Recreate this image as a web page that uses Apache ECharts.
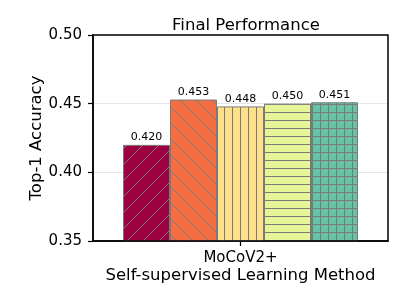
<!DOCTYPE html>
<html><head><meta charset="utf-8">
<script src="https://cdn.jsdelivr.net/npm/echarts@6/dist/echarts.min.js"></script>
<style>html,body{margin:0;padding:0;background:#fff}#c{width:407px;height:305px}</style>
</head><body><div id="c"></div>
<script>
const categories = ['MoCoV2+'];
const methods = ['m1','m2','m3','m4','m5'];
const values = [0.420, 0.453, 0.448, 0.450, 0.451];
const yTicks = [0.35, 0.40, 0.45, 0.50];

const baseColors = ['#9e0142','#f46d43','#fee08b','#e6f598','#66c2a5'];
const hatches = ['/','\\','|','-','+'];

function makePattern(base, hatch){
  const s = (hatch === '/' || hatch === '\\') ? 16 : 8;
  const cv = document.createElement('canvas');
  cv.width = s; cv.height = s;
  const g = cv.getContext('2d');
  g.fillStyle = base; g.fillRect(0,0,s,s);
  g.strokeStyle = '#7a7a7a'; g.lineWidth = 1;
  g.beginPath();
  if (hatch === '/') {
    g.moveTo(0,s); g.lineTo(s,0);
    g.moveTo(-2,2); g.lineTo(2,-2);
    g.moveTo(s-2,s+2); g.lineTo(s+2,s-2);
  } else if (hatch === '\\') {
    g.moveTo(0,0); g.lineTo(s,s);
    g.moveTo(s-2,-2); g.lineTo(s+2,2);
    g.moveTo(-2,s-2); g.lineTo(2,s+2);
  } else if (hatch === '|') {
    g.moveTo(0.5,0); g.lineTo(0.5,s);
  } else if (hatch === '-') {
    g.moveTo(0,0.5); g.lineTo(s,0.5);
  } else if (hatch === '+') {
    g.moveTo(0.5,0); g.lineTo(0.5,s);
    g.moveTo(0,0.5); g.lineTo(s,0.5);
  }
  g.stroke();
  return {image: cv, repeat: 'repeat'};
}

const chart = echarts.init(document.getElementById('c'), null, {renderer:'canvas'});
const font = 'DejaVu Sans';
const series = methods.map((m,i)=>({
  name: m, type: 'bar', data: [values[i]],
  barWidth: 47, barGap: '0%',
  itemStyle: {color: makePattern(baseColors[i], hatches[i]), borderColor: '#7a7a7a', borderWidth: 1},
  label: {show: true, position: 'top', distance: 2, fontFamily: font, fontSize: 11, color: '#000',
    formatter: p => p.value.toFixed(3)}
}));

chart.setOption({
  animation: false,
  title: {text: 'Final Performance', left: 241, top: 12, textAlign: 'center',
    textStyle: {fontFamily: font, fontSize: 16.5, fontWeight: 'normal', color: '#000'}},
  grid: {left: 93, right: 19, top: 35, bottom: 64, containLabel: false},
  xAxis: {type: 'category', data: categories,
    name: 'Self-supervised Learning Method', nameLocation: 'middle', nameGap: 26,
    nameMoveOverlap: false,
    nameTextStyle: {fontFamily: font, fontSize: 16.5, color: '#000'},
    axisLine: {lineStyle: {color: '#000', width: 1.5}},
    axisTick: {show: true, alignWithLabel: true, length: 5, lineStyle: {color: '#000', width: 1.2}},
    axisLabel: {fontFamily: font, fontSize: 15, color: '#000', margin: 10},
    splitLine: {show: false}},
  yAxis: {type: 'value', min: 0.35, max: 0.50, interval: 0.05,
    name: 'Top-1 Accuracy', nameLocation: 'middle', nameGap: 48,
    nameMoveOverlap: false,
    nameTextStyle: {fontFamily: font, fontSize: 16.5, color: '#000'},
    axisLine: {show: true, lineStyle: {color: '#000', width: 1.5}},
    axisTick: {show: true, length: 5, lineStyle: {color: '#000', width: 1.2}},
    axisLabel: {fontFamily: font, fontSize: 15, color: '#000', margin: 11,
      formatter: v => v.toFixed(2)},
    splitLine: {show: true, lineStyle: {color: '#e6e6e6', width: 1}}},
  graphic: [{type: 'rect', shape: {x: 93, y: 35, width: 295, height: 206},
    style: {fill: 'none', stroke: '#000', lineWidth: 1.5}, z: 100, silent: true}],
  series: series
});
</script></body></html>
